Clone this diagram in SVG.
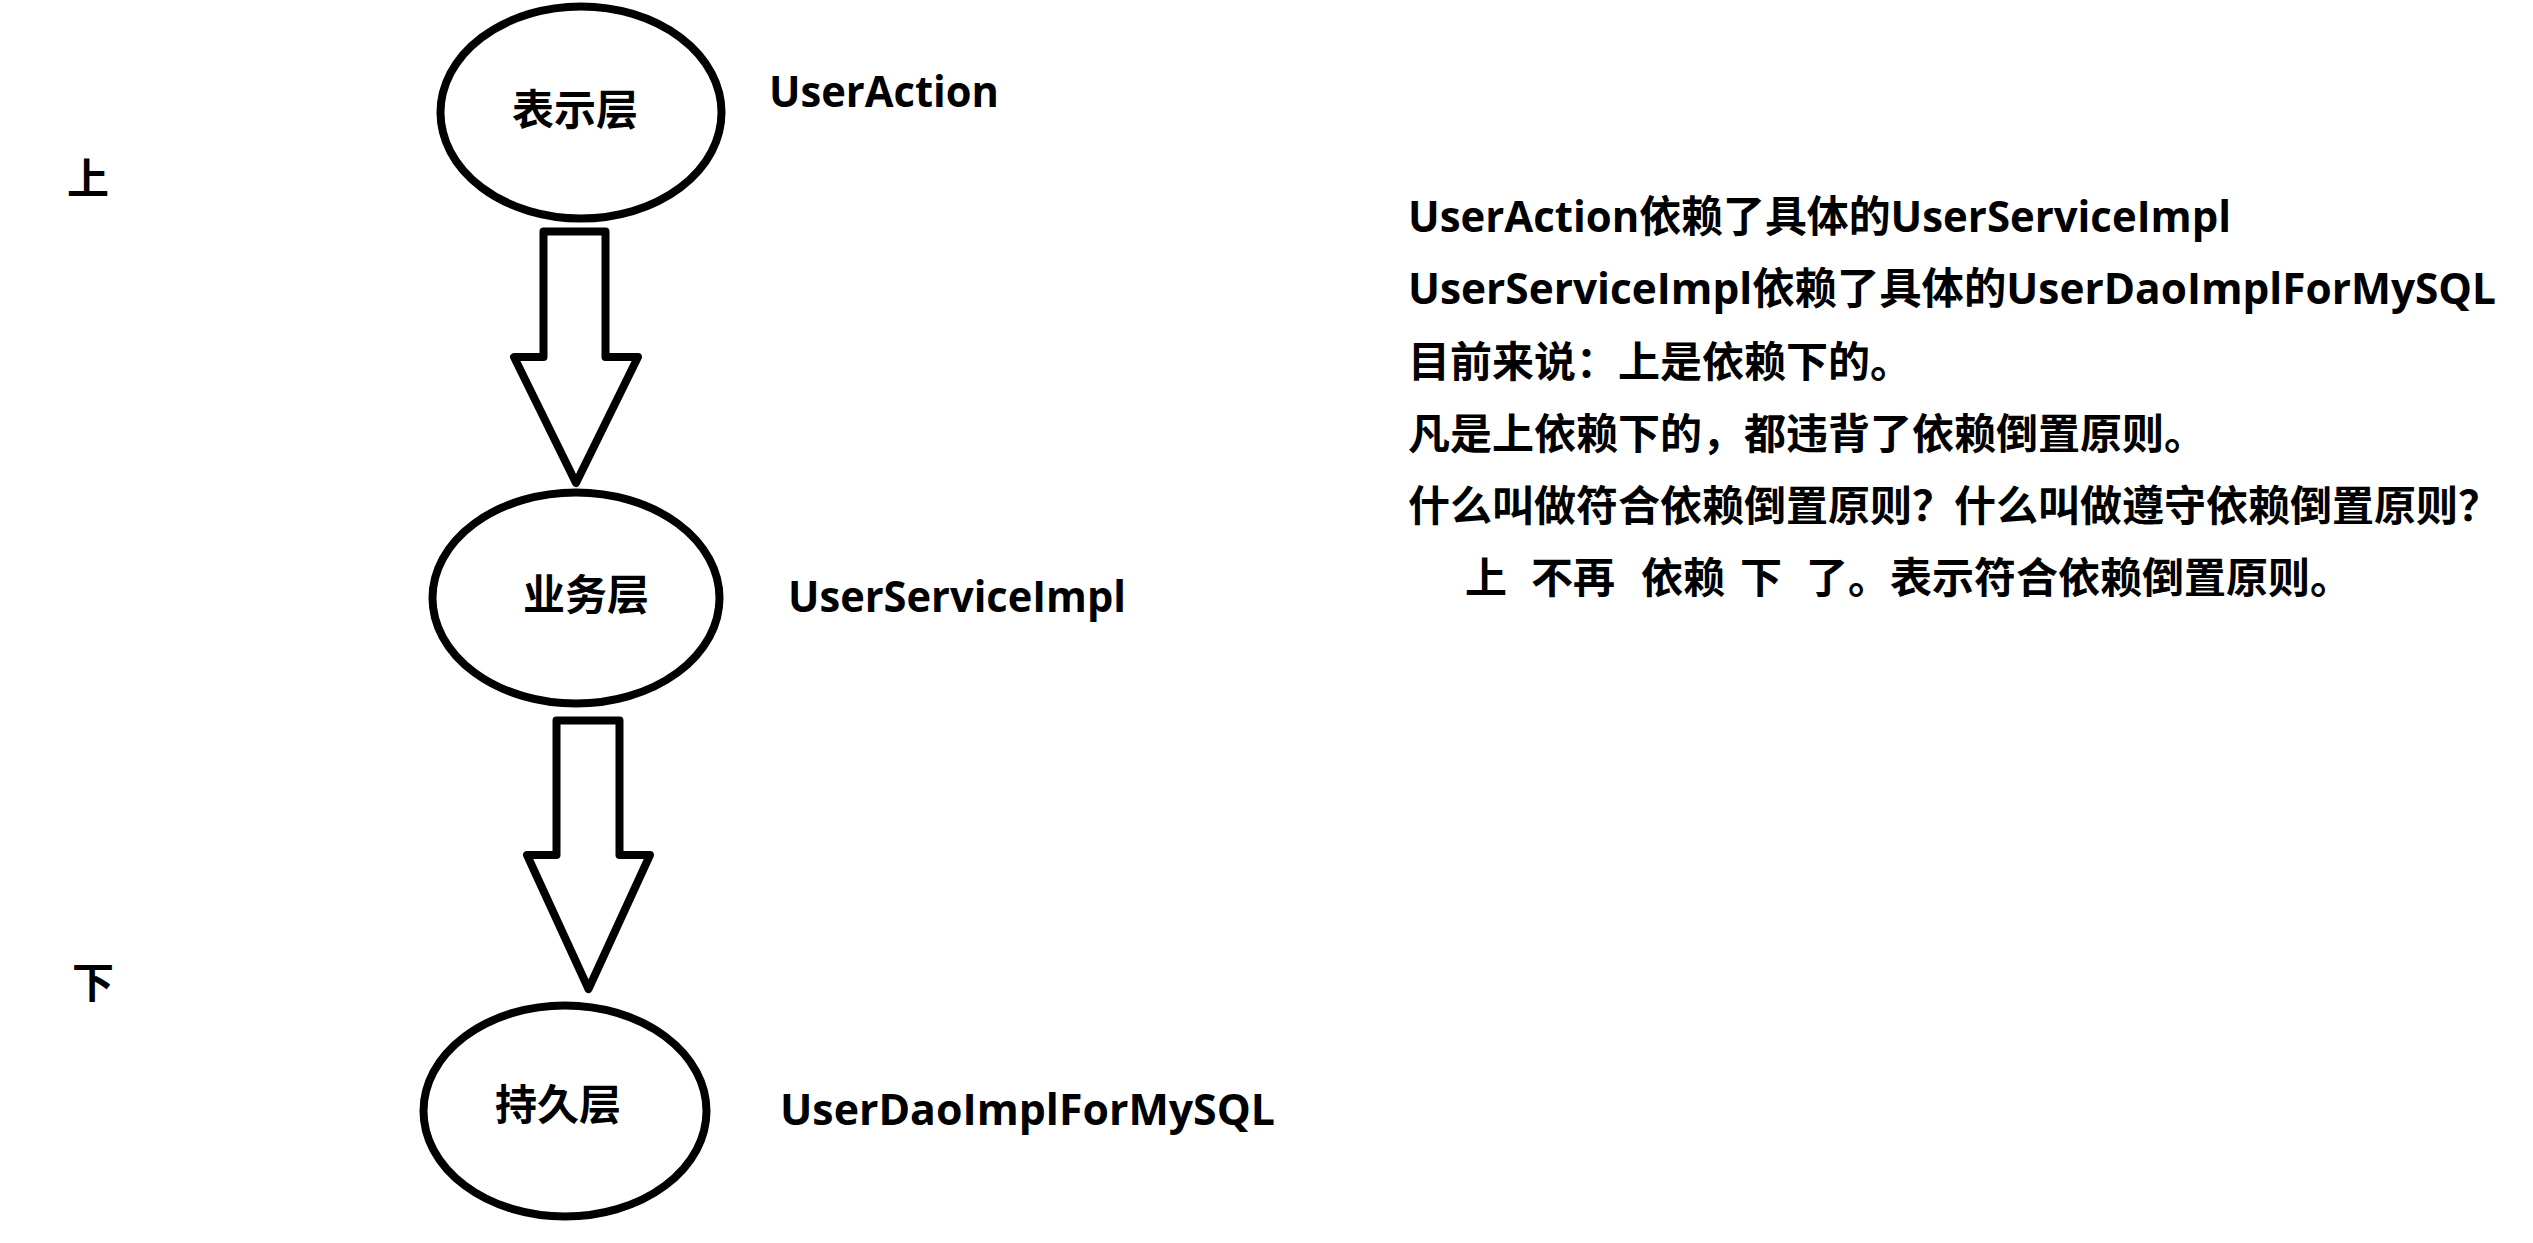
<svg xmlns="http://www.w3.org/2000/svg" width="2533" height="1243" viewBox="0 0 2533 1243">
<style>
.shape{fill:none;stroke:#000;stroke-width:8}
.arrow{fill:#fff;stroke:#000;stroke-width:8;stroke-linejoin:round}
.t{font-family:"Open Sans","Noto Sans CJK SC",sans-serif;font-weight:bold;font-size:43px;fill:#000}
.c{font-family:"Noto Sans CJK SC",sans-serif;font-weight:bold;font-size:42px;fill:#000}
</style>
<rect width="2533" height="1243" fill="#fff"/>
<g id="connectors">
<polygon class="arrow" points="543.5,231.5 605.5,231.5 605.5,357 638,357 576,483 514,357 543.5,357"/>
<polygon class="arrow" points="556.5,720.5 619.5,720.5 619.5,855 650,855 588.5,989 527,855 556.5,855"/>
</g>
<g id="node-presentation">
<ellipse class="shape" cx="581" cy="112.5" rx="140.5" ry="106"/>
<text class="c" x="575" y="125" text-anchor="middle">表示层</text>
<text class="t" x="769" y="107" textLength="230" lengthAdjust="spacingAndGlyphs">UserAction</text>
</g>
<g id="node-service">
<ellipse class="shape" cx="576" cy="598" rx="143.5" ry="105.5"/>
<text class="c" x="586" y="610" text-anchor="middle">业务层</text>
<text class="t" x="788" y="612" textLength="338" lengthAdjust="spacingAndGlyphs">UserServiceImpl</text>
</g>
<g id="node-persistence">
<ellipse class="shape" cx="565" cy="1111" rx="141.5" ry="105.5"/>
<text class="c" x="558" y="1120" text-anchor="middle">持久层</text>
<text class="t" x="780" y="1125" textLength="495" lengthAdjust="spacingAndGlyphs">UserDaoImplForMySQL</text>
</g>
<g id="side-labels">
<text class="c" x="67" y="194">上</text>
<text class="c" x="72" y="998">下</text>
</g>
<g id="notes">
<text class="t" x="1408" y="232" textLength="823" lengthAdjust="spacingAndGlyphs">UserAction依赖了具体的UserServiceImpl</text>
<text class="t" x="1408" y="304" textLength="1088" lengthAdjust="spacingAndGlyphs">UserServiceImpl依赖了具体的UserDaoImplForMySQL</text>
<text class="c" x="1408" y="377">目前来说：上是依赖下的。</text>
<text class="c" x="1408" y="449">凡是上依赖下的，都违背了依赖倒置原则。</text>
<text class="c" x="1408" y="521">什么叫做符合依赖倒置原则？什么叫做遵守依赖倒置原则？</text>
<text class="c" y="593"><tspan x="1465">上</tspan><tspan x="1531">不再</tspan><tspan x="1641">依赖</tspan><tspan x="1740">下</tspan><tspan x="1806">了。表示符合依赖倒置原则。</tspan></text>
</g>
</svg>
